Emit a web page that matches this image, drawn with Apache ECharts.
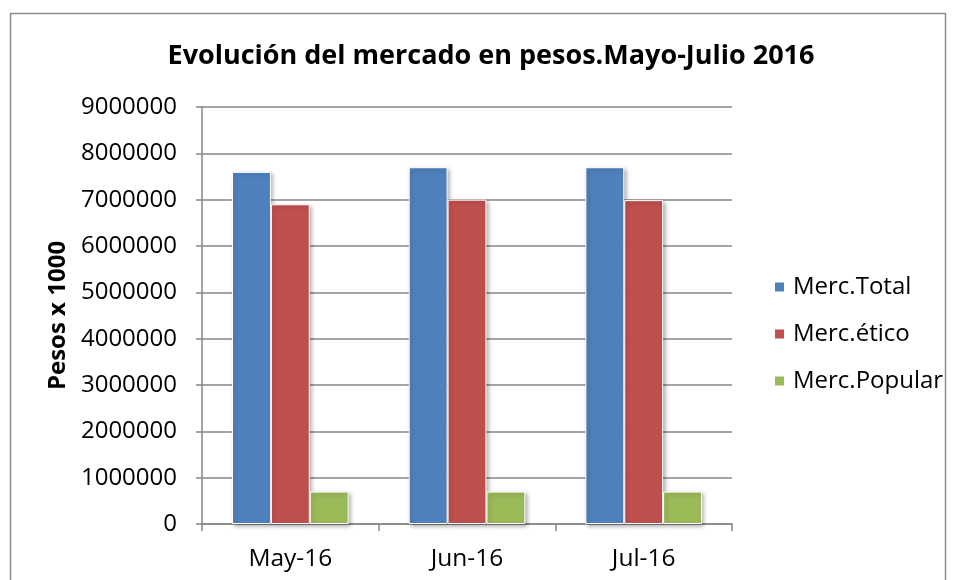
<!DOCTYPE html>
<html>
<head>
<meta charset="utf-8">
<script src="https://cdn.jsdelivr.net/npm/echarts@6/dist/echarts.min.js"></script>
<style>html,body{margin:0;padding:0;background:#fff}#c{width:956px;height:580px}</style>
</head>
<body>
<div id="c"></div>
<script>
const categories = ['May-16', 'Jun-16', 'Jul-16'];
const seriesNames = ['Merc.Total', 'Merc.ético', 'Merc.Popular'];
const mercTotal = [7600000, 7700000, 7700000];
const mercEtico = [6900000, 7000000, 6990000];
const mercPopular = [700000, 700000, 700000];
const colors = ['#4F81BD', '#C0504D', '#9BBB59'];
const titleText = 'Evolución del mercado en pesos.Mayo-Julio 2016';
const yAxisName = 'Pesos x 1000';

const FONT = '"Open Sans", sans-serif';
const chart = echarts.init(document.getElementById('c'), null, {renderer: 'canvas'});
const dataSets = [mercTotal, mercEtico, mercPopular];
chart.setOption({
  animation: false,
  backgroundColor: '#fff',
  title: {
    text: titleText, left: 486, textAlign: 'center', top: 38,
    textStyle: {fontFamily: FONT, fontWeight: 'bold', fontSize: 27, color: '#000'}
  },
  graphic: [{
    type: 'rect', silent: true, z: -1,
    shape: {x: 10.5, y: 13.5, width: 935, height: 620},
    style: {fill: 'none', stroke: '#8c8c8c', lineWidth: 1.5}
  }],
  legend: {
    orient: 'vertical', left: 768, top: 270, itemGap: 23,
    itemWidth: 11, itemHeight: 11, icon: 'rect',
    textStyle: {fontFamily: FONT, fontSize: 24, color: '#000', padding: [0,0,0,3]},
    data: seriesNames
  },
  grid: {left: 202, right: 224, top: 107, bottom: 56},
  xAxis: {
    type: 'category', data: categories,
    axisLine: {lineStyle: {color: '#868686', width: 1.5}},
    axisTick: {show: true, length: 7, lineStyle: {color: '#868686', width: 1.5}},
    axisLabel: {fontFamily: FONT, fontSize: 24.5, color: '#000', margin: 23}
  },
  yAxis: {
    type: 'value', min: 0, max: 9000000, interval: 1000000,
    name: yAxisName, nameLocation: 'middle', nameGap: 128, nameRotate: 90,
    nameTextStyle: {fontFamily: FONT, fontWeight: 'bold', fontSize: 24, color: '#000'},
    axisLine: {show: true, lineStyle: {color: '#868686', width: 1.5}},
    axisTick: {show: true, length: 6, lineStyle: {color: '#868686', width: 1.5}},
    axisLabel: {fontFamily: FONT, fontSize: 24, color: '#000', margin: 25, formatter: v => String(v)},
    splitLine: {lineStyle: {color: '#868686', width: 1.5}}
  },
  series: seriesNames.map((n, i) => ({
    name: n, type: 'bar', data: dataSets[i],
    barGap: '0%', barCategoryGap: '34%',
    itemStyle: {
      color: colors[i], borderColor: '#fff', borderWidth: 1,
      shadowBlur: 4, shadowColor: 'rgba(0,0,0,0.3)', shadowOffsetX: 2, shadowOffsetY: 2
    }
  }))
});
</script>
</body>
</html>
